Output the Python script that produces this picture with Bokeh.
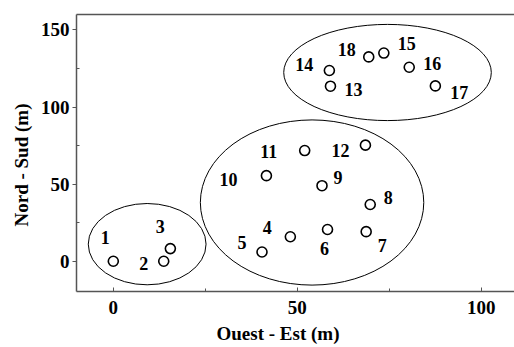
from bokeh.plotting import figure
from bokeh.models import ColumnDataSource, LinearAxis, FixedTicker, Title, Range1d
from bokeh.core.properties import value
from bokeh.embed import file_html
from bokeh.resources import INLINE

# ---- data ----
ids = ["1", "2", "3", "4", "5", "6", "7", "8", "9", "10",
       "11", "12", "13", "14", "15", "16", "17", "18"]
ouest_est = [0.0, 13.7, 15.5, 48.1, 40.4, 58.2, 68.7, 69.8, 56.7, 41.6,
             52.0, 68.5, 59.0, 58.7, 73.5, 80.4, 87.5, 69.4]
nord_sud = [0.0, 0.0, 8.2, 15.9, 6.0, 20.6, 19.2, 36.8, 49.0, 55.5,
            71.8, 75.3, 113.5, 123.7, 135.0, 125.8, 113.7, 132.5]

# groups (ellipses): centre x, centre y, width, height (data units)
grp_x = [9.2, 54.0, 74.5]
grp_y = [11.1, 38.1, 122.4]
grp_w = [32.0, 60.7, 56.4]
grp_h = [52.7, 107.1, 62.4]

x_ticks = [0, 50, 100]
y_ticks = [0, 50, 100, 150]
x_title = "Ouest - Est (m)"
y_title = "Nord - Sud (m)"

# ---- label placement (screen pixels, style only) ----
lab_dx = [-8, -20, -10, -23, -20, -3, 16, 18, 16, -38,
          -36, -25, 23, -25, 23, 23, 24, -22]
lab_dy = [-24, 2, -22, -9, -10, 19, 14, -7, -8, 4,
          1, 5, 3, -6, -10, -4, 7, -7]

FONT = "Liberation Serif"

p = figure(width=514, height=347, output_backend="svg", toolbar_location=None,
           x_range=Range1d(-10, 109.0), y_range=Range1d(-19.6, 160),
           min_border_left=76, min_border_right=0, min_border_top=14,
           min_border_bottom=55, outline_line_color=None,
           background_fill_color="white", border_fill_color="white")
p.grid.visible = False

# ellipses
esrc = ColumnDataSource(dict(x=grp_x, y=grp_y, w=grp_w, h=grp_h))
p.ellipse(x="x", y="y", width="w", height="h", source=esrc,
          fill_color=None, line_color="black", line_width=1)

# points
src = ColumnDataSource(dict(x=ouest_est, y=nord_sud, t=ids, dx=lab_dx, dy=lab_dy))
p.scatter(x="x", y="y", source=src, size=10, marker="circle",
          fill_color="white", line_color="black", line_width=1.6)
p.text(x="x", y="y", text="t", x_offset="dx", y_offset="dy", source=src,
       text_font=value(FONT), text_font_style="bold", text_font_size="18px",
       text_align="center", text_baseline="middle", text_color="black")

axis_col = "#555555"
for ax in (p.xaxis[0], p.yaxis[0]):
    ax.axis_line_color = axis_col
    ax.axis_line_width = 1.5
    ax.major_tick_line_color = axis_col
    ax.minor_tick_line_color = axis_col
    ax.major_label_text_font = FONT
    ax.major_label_text_font_style = "bold"
    ax.major_label_text_font_size = "19px"
    ax.major_label_text_color = "black"

p.xaxis.ticker = FixedTicker(ticks=x_ticks, minor_ticks=[25, 75])
p.yaxis.ticker = FixedTicker(ticks=y_ticks, minor_ticks=[-25, 25, 75, 125])
p.xaxis.major_tick_in = 4
p.xaxis.major_tick_out = 0
p.xaxis.minor_tick_in = 3
p.xaxis.minor_tick_out = 0
p.xaxis.major_label_standoff = 9
p.yaxis.major_tick_in = 0
p.yaxis.major_tick_out = 4
p.yaxis.minor_tick_in = 3
p.yaxis.minor_tick_out = 0
p.yaxis.major_label_standoff = 3

top = LinearAxis(ticker=FixedTicker(ticks=[]), axis_line_color=axis_col,
                 axis_line_width=1.5, major_label_text_font_size="0px",
                 major_tick_in=0, major_tick_out=0, minor_tick_in=0, minor_tick_out=0)
p.add_layout(top, "above")

p.add_layout(Title(text=x_title, align="left", offset=140, standoff=8,
                   text_font=FONT, text_font_style="bold", text_font_size="19px",
                   text_color="black"), "below")
p.add_layout(Title(text=y_title, align="left", offset=65, standoff=12,
                   text_font=FONT, text_font_style="bold", text_font_size="19px",
                   text_color="black"), "left")

open("out.html", "w").write(file_html(p, INLINE))
